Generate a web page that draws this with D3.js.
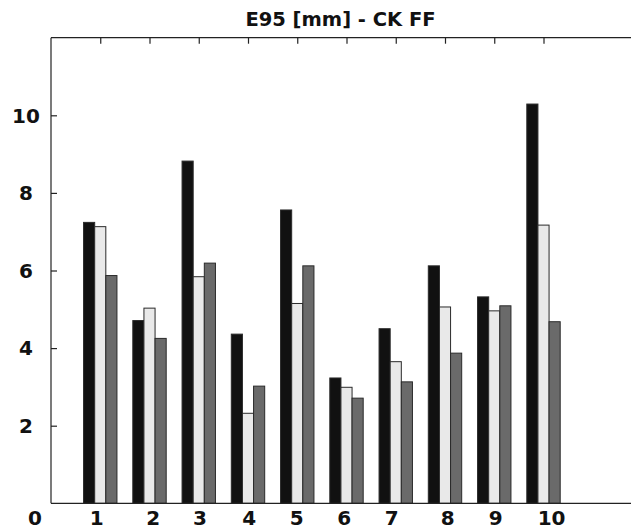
<!DOCTYPE html>
<html>
<head>
<meta charset="utf-8">
<script src="https://cdn.jsdelivr.net/npm/d3@7"></script>
<style>
  html, body { margin: 0; padding: 0; background: #fff; overflow: hidden; }
  svg { display: block; }
  text { font-family: "DejaVu Sans", sans-serif; font-weight: bold; fill: #111; }
</style>
</head>
<body>
<div id="chart"></div>
<script>
// ---- data ----
const title = "E95 [mm] - CK FF";
const categories = [1, 2, 3, 4, 5, 6, 7, 8, 9, 10];
const seriesA = [7.24, 4.71, 8.82, 4.36, 7.56, 3.23, 4.50, 6.12, 5.32, 10.29]; // black
const seriesB = [7.13, 5.03, 5.84, 2.32, 5.15, 2.99, 3.65, 5.06, 4.96, 7.17]; // light
const seriesC = [5.87, 4.25, 6.19, 3.02, 6.12, 2.71, 3.13, 3.87, 5.09, 4.68]; // gray
const yTicks = [2, 4, 6, 8, 10];
const topTicks = [1, 2, 3, 4, 5, 6, 7, 8, 9, 10];
const xLabels = ["0", "1", "2", "3", "4", "5", "6", "7", "8", "9", "10"];
const xLabelPos = [-0.325, 0.928, 2.077, 3.025, 4.026, 4.988, 5.954, 6.916, 8.053, 9.028, 10.165];

// ---- layout ----
const W = 631, H = 530;
const mLeft = 51, mRight = 642, mTop = 37.7, mBottom = 503.3;
const colors = ["#111111", "#e9e9e9", "#6a6a6a"];
const series = [seriesA, seriesB, seriesC];

const svg = d3.select("#chart").append("svg").attr("width", W).attr("height", H);

const x = d3.scaleLinear().domain([0, 12]).range([mLeft, mRight]);
const y = d3.scaleLinear().domain([0, 12]).range([mBottom, mTop]);

const groupW = 0.678;
const barW = groupW / 3;

// bars
series.forEach((s, si) => {
  svg.append("g").selectAll("rect").data(categories).join("rect")
    .attr("x", (c) => x(c - groupW / 2 + si * barW))
    .attr("width", x(barW) - x(0))
    .attr("y", (c, i) => y(s[i]))
    .attr("height", (c, i) => y(0) - y(s[i]))
    .attr("fill", colors[si])
    .attr("stroke", "#2a2a2a")
    .attr("stroke-width", 1);
});

// frame
const frame = svg.append("g").attr("stroke", "#222").attr("stroke-width", 1.2).attr("fill", "none");
frame.append("line").attr("x1", x(0)).attr("x2", x(12)).attr("y1", y(12)).attr("y2", y(12));
frame.append("line").attr("x1", x(0)).attr("x2", x(12)).attr("y1", y(0)).attr("y2", y(0));
frame.append("line").attr("x1", x(0)).attr("x2", x(0)).attr("y1", y(0)).attr("y2", y(12));

// left axis (inward ticks)
const yAxis = d3.axisRight(y).tickValues(yTicks).tickSize(6).tickFormat("");
const gy = svg.append("g").attr("transform", `translate(${x(0)},0)`).call(yAxis);
gy.select(".domain").remove();
gy.selectAll(".tick line").attr("stroke", "#222").attr("stroke-width", 1.2);

svg.append("g").selectAll("text").data(yTicks).join("text")
  .attr("x", 26)
  .attr("y", (d) => y(d))
  .attr("dy", "0.36em")
  .attr("text-anchor", "middle")
  .attr("font-size", 20)
  .text((d) => d);

// top axis (inward ticks)
const xTop = d3.axisBottom(x).tickValues(topTicks).tickSize(6).tickFormat("");
const gx = svg.append("g").attr("transform", `translate(0,${y(12)})`).call(xTop);
gx.select(".domain").remove();
gx.selectAll(".tick line").attr("stroke", "#222").attr("stroke-width", 1.2);

// bottom labels
svg.append("g").selectAll("text").data(xLabels).join("text")
  .attr("x", (d, i) => x(xLabelPos[i]))
  .attr("y", 525)
  .attr("text-anchor", "middle")
  .attr("font-size", 20)
  .text((d) => d);

// title
svg.append("text")
  .attr("x", 340.5)
  .attr("y", 26)
  .attr("text-anchor", "middle")
  .attr("font-size", 19.5)
  .text(title);
</script>
</body>
</html>
